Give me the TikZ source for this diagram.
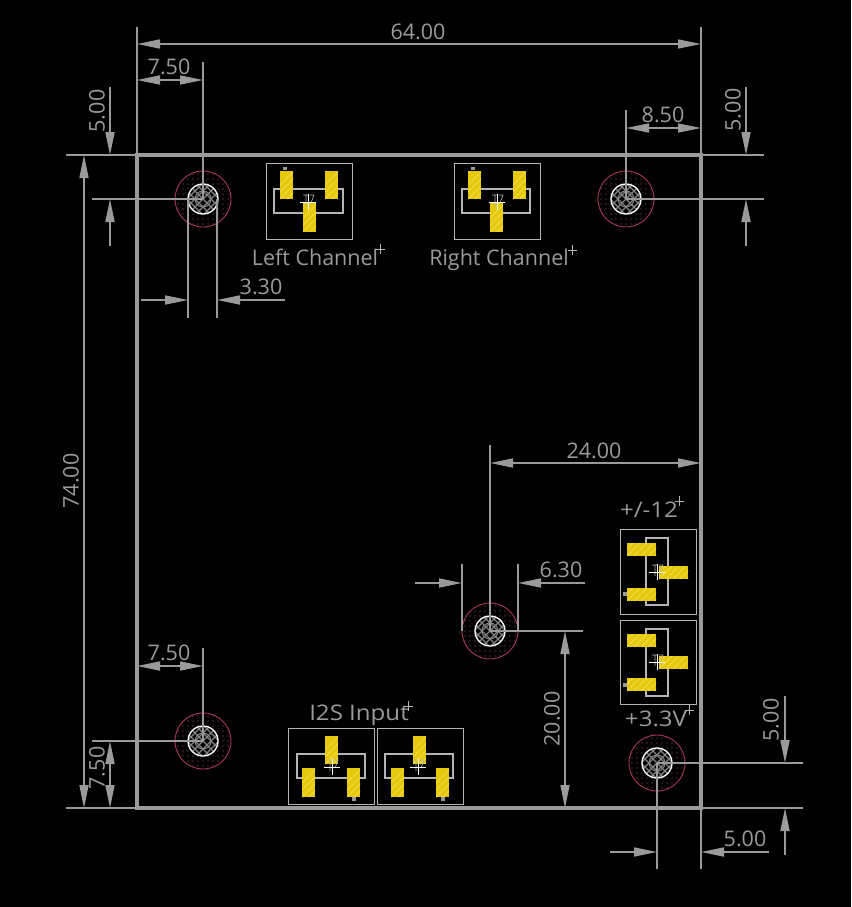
\documentclass[tikz,border=0pt]{standalone}
\usepackage{fontspec}
\setmainfont{Open Sans}
\usetikzlibrary{arrows.meta}
\definecolor{dimgray}{HTML}{9A9A9A}
\definecolor{padyellow}{HTML}{E6C80C}
\definecolor{padstripe}{HTML}{F2DC4A}
\definecolor{holered}{HTML}{A83A55}
\definecolor{holedot}{HTML}{B0566A}
\definecolor{silk}{HTML}{B4B4B4}
\tikzset{
  dimtip/.tip={Triangle[length=23pt,width=9pt]},
  dimline/.style={draw=dimgray,line width=1.7pt},
  dimarrow/.style={dimline,-dimtip},
  dimboth/.style={dimline,dimtip-dimtip},
  boardline/.style={draw=dimgray,line width=4.5pt,line cap=square},
  dimtext/.style={text=dimgray,font=\fontsize{21.5}{23}\selectfont,inner sep=0pt,text height=15.4pt,text depth=0pt},
  widelabel/.style={dimtext,xscale=1.12,transform shape},
  outline/.style={draw=silk,line width=1pt},
  bodyline/.style={draw=silk,line width=1.7pt},
  originmark/.style={draw=silk,line width=.8pt},
}
\newcommand{\hole}[2]{%
  \begin{scope}[shift={(#1,#2)}]
    \draw[holered,line width=.9pt] (0,0) circle (28);
    \begin{scope}
      \clip (0,0) circle (27.5);
      \foreach \i in {-6,...,6}\foreach \j in {-6,...,6}
        \fill[holedot] (\i*5,\j*5) circle (.6);
    \end{scope}
    \fill[black] (0,0) circle (15);
    \begin{scope}
      \clip (0,0) circle (15);
      \foreach \k in {-24,-16,...,24}{
        \draw[dimgray!85!black,line width=1.1pt] (\k-20,-20) -- (\k+20,20);
        \draw[dimgray!85!black,line width=1.1pt] (\k-20,20) -- (\k+20,-20);
      }
      \draw[dimgray!85!black,line width=1pt] (0,0) circle (8);
    \end{scope}
    \draw[white,line width=1.3pt] (0,0) circle (15);
  \end{scope}}
\newcommand{\pad}[4]{%
  \fill[padyellow] (#1,#2) rectangle (#3,#4);
  \begin{scope}
    \clip (#1,#2) rectangle (#3,#4);
    \foreach \k in {0,7,...,56}
      \draw[padstripe,line width=.8pt] (#1+\k-14,#4) -- (#1+\k+14,#4-28);
  \end{scope}}
\newcommand{\xmark}[2]{%
  \draw[silk,line width=.6pt] (#1-5,#2-7) -- (#1+1,#2-7) (#1-2,#2-7) -- (#1-2,#2+4) (#1+2,#2-7) -- (#1+6,#2-7) -- (#1+3,#2+1);
  \draw[white,line width=.8pt] (#1-8,#2) -- (#1+8,#2) (#1,#2-8) -- (#1,#2+8);}
\begin{document}
\begin{tikzpicture}[x=1pt,y=-1pt]
\useasboundingbox (0,0) rectangle (851,907);
\fill[black] (0,0) rectangle (851,907);

% mounting holes
\hole{203}{199}
\hole{626}{199}
\hole{490}{631}
\hole{203}{741}
\hole{657}{763}

% connectors: Left Channel
\draw[outline] (266,163) rectangle (352,239);
\draw[bodyline] (274,189) rectangle (343,213);
\pad{280}{171}{293}{199}
\pad{325}{171}{338}{199}
\pad{303}{203}{316}{232}
\fill[dimgray] (283,167) rectangle (287,170);
\xmark{308}{202}
% Right Channel
\draw[outline] (454,163) rectangle (540,239);
\draw[bodyline] (462,189) rectangle (530,213);
\pad{468}{171}{481}{199}
\pad{513}{171}{526}{199}
\pad{490}{203}{503}{232}
\fill[dimgray] (471,167) rectangle (475,170);
\xmark{497}{202}
% +/-12
\draw[outline] (620,529) rectangle (696,614);
\draw[bodyline] (646,538) rectangle (668,605);
\pad{627}{543}{656}{556}
\pad{627}{588}{656}{601}
\pad{659}{566}{688}{579}
\fill[dimgray] (623,592) rectangle (627,596);
\xmark{657}{572}
% +3.3V
\draw[outline] (620,620) rectangle (696,704);
\draw[bodyline] (646,629) rectangle (668,696);
\pad{627}{634}{656}{647}
\pad{627}{678}{656}{691}
\pad{659}{656}{688}{669}
\fill[dimgray] (623,683) rectangle (627,687);
\xmark{657}{662}
% I2S 1
\draw[outline] (288,728) rectangle (374,804);
\draw[bodyline] (297,754) rectangle (365,778);
\pad{325}{736}{338}{764}
\pad{302}{768}{315}{797}
\pad{347}{768}{360}{797}
\fill[dimgray] (352,797) rectangle (356,801);
\xmark{332}{767}
% I2S 2
\draw[outline] (377,728) rectangle (463,804);
\draw[bodyline] (385,754) rectangle (453,778);
\pad{413}{736}{426}{764}
\pad{391}{768}{404}{797}
\pad{436}{768}{449}{797}
\fill[dimgray] (441,797) rectangle (445,801);
\xmark{418}{767}

% extension lines
\draw[dimline] (137,27) -- (137,155) (701,27) -- (701,155);
\draw[dimline] (203,62) -- (203,199);
\draw[dimline] (66,155) -- (137,155);
\draw[dimline] (92,199) -- (203,199);
\draw[dimline] (188,199) -- (188,318) (217,199) -- (217,318);
\draw[dimline] (626,110) -- (626,199);
\draw[dimline] (701,155) -- (764,155);
\draw[dimline] (626,199) -- (764,199);
\draw[dimline] (490,445) -- (490,631);
\draw[dimline] (462,564) -- (462,631) (518,564) -- (518,631);
\draw[dimline] (490,631) -- (583,631);
\draw[dimline] (203,648) -- (203,741);
\draw[dimline] (92,741) -- (203,741);
\draw[dimline] (66,808) -- (137,808);
\draw[dimline] (657,763) -- (803,763);
\draw[dimline] (701,808) -- (803,808);
\draw[dimline] (657,763) -- (657,869) (701,808) -- (701,869);

% board outline
\draw[boardline] (137,155) rectangle (701,808);

% dimension arrows
\draw[dimboth] (137,44) -- (701,44);
\draw[dimboth] (137,80) -- (203,80);
\draw[dimarrow] (110,87) -- (110,155);
\draw[dimarrow] (110,246) -- (110,199);
\draw[dimboth] (84,155) -- (84,808);
\draw[dimarrow] (141,300) -- (188,300);
\draw[dimarrow] (285,300) -- (217,300);
\draw[dimboth] (626,128) -- (701,128);
\draw[dimarrow] (746,87) -- (746,155);
\draw[dimarrow] (746,246) -- (746,199);
\draw[dimboth] (490,463) -- (701,463);
\draw[dimarrow] (415,583) -- (462,583);
\draw[dimarrow] (585,583) -- (518,583);
\draw[dimboth] (565,631) -- (565,808);
\draw[dimboth] (137,666) -- (203,666);
\draw[dimboth] (110,741) -- (110,808);
\draw[dimarrow] (785,696) -- (785,763);
\draw[dimarrow] (785,855) -- (785,808);
\draw[dimarrow] (610,852) -- (657,852);
\draw[dimarrow] (769,852) -- (701,852);

% dimension texts
\node[dimtext] (d64) at (418,32) {64.00};
\node[dimtext] (d75a) at (169,67) {7.50};
\node[dimtext,rotate=90] (d5a) at (97,111) {5.00};
\node[dimtext,rotate=90] (d74) at (71,481) {74.00};
\node[dimtext] (d33) at (261,287) {3.30};
\node[dimtext] (d85) at (663,115) {8.50};
\node[dimtext,rotate=90] (d5b) at (733,110) {5.00};
\node[dimtext] (d24) at (594,451) {24.00};
\node[dimtext] (d63) at (561,570) {6.30};
\node[dimtext,rotate=90] (d20) at (552,719) {20.00};
\node[dimtext] (d75b) at (169,653) {7.50};
\node[dimtext,rotate=90] (d75c) at (97,768) {7.50};
\node[dimtext,rotate=90] (d5c) at (771,720) {5.00};
\node[dimtext] (d5d) at (745,839) {5.00};

% labels
\node[dimtext] (lleft) at (315,258) {Left Channel};
\node[dimtext] (lright) at (499,258) {Right Channel};
\node[widelabel] (lpm) at (649,510) {+/-12};
\node[widelabel] (l33) at (656,718.5) {+3.3V};
\node[widelabel] (li2s) at (359,713) {I2S Input};
\foreach \x/\y in {380/249,572/250,679/501,689/710,408/706}
  \draw[originmark] (\x-4,\y) -- (\x+5,\y) (\x,\y-5) -- (\x,\y+5);
\end{tikzpicture}
\end{document}
